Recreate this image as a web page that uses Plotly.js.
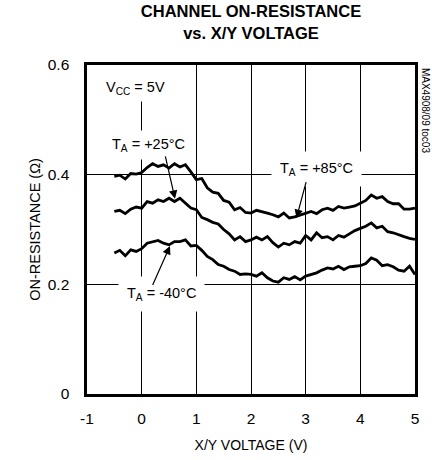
<!DOCTYPE html>
<html>
<head>
<meta charset="utf-8">
<script src="https://cdn.plot.ly/plotly-3.0.1.min.js"></script>
<style>html,body{margin:0;padding:0;background:#fff;}#chart{width:432px;height:460px;}</style>
</head>
<body>
<div id="chart"></div>
<script>
// X/Y voltage (V)
const voltage = [-0.5,-0.4,-0.3,-0.2,-0.1,0.0,0.1,0.2,0.3,0.4,0.5,0.6,0.7,0.8,0.9,1.0,1.1,1.2,1.3,1.4,1.5,1.6,1.7,1.8,1.9,2.0,2.1,2.2,2.3,2.4,2.5,2.6,2.7,2.8,2.9,3.0,3.1,3.2,3.3,3.4,3.5,3.6,3.7,3.8,3.9,4.0,4.1,4.2,4.3,4.4,4.5,4.6,4.7,4.8,4.9,5.0];
// On-resistance (ohm) at TA = +85°C
const r85 = [0.397,0.399,0.392,0.402,0.401,0.404,0.413,0.420,0.415,0.418,0.412,0.420,0.414,0.418,0.405,0.391,0.393,0.376,0.368,0.366,0.353,0.350,0.336,0.340,0.331,0.330,0.335,0.333,0.330,0.327,0.323,0.330,0.321,0.323,0.326,0.330,0.333,0.329,0.336,0.339,0.335,0.342,0.339,0.341,0.343,0.348,0.353,0.363,0.357,0.360,0.351,0.347,0.347,0.337,0.337,0.339];
// On-resistance (ohm) at TA = +25°C
const r25 = [0.333,0.335,0.329,0.337,0.341,0.339,0.351,0.348,0.354,0.351,0.357,0.351,0.357,0.348,0.339,0.336,0.322,0.318,0.313,0.310,0.300,0.292,0.281,0.287,0.278,0.281,0.286,0.281,0.287,0.276,0.268,0.275,0.272,0.278,0.275,0.289,0.281,0.294,0.285,0.287,0.281,0.289,0.286,0.292,0.298,0.302,0.306,0.312,0.303,0.306,0.296,0.294,0.290,0.287,0.284,0.282];
// On-resistance (ohm) at TA = -40°C
const rm40 = [0.257,0.262,0.252,0.263,0.260,0.265,0.275,0.278,0.280,0.275,0.272,0.278,0.278,0.281,0.270,0.271,0.262,0.251,0.245,0.236,0.233,0.227,0.224,0.218,0.219,0.218,0.215,0.221,0.212,0.206,0.204,0.212,0.209,0.214,0.208,0.215,0.218,0.221,0.226,0.230,0.228,0.233,0.227,0.232,0.233,0.234,0.238,0.248,0.244,0.234,0.236,0.232,0.226,0.224,0.233,0.218];

const xTicks = [-1,0,1,2,3,4,5];
const xTickText = ["-1","0","1","2","3","4","5"];
const yTicks = [0,0.2,0.4,0.6];
const yTickText = ["0","0.2","0.4","0.6"];

const FONT = "'Liberation Sans', Arial, sans-serif";

const lineStyle = {color:'#000', width:2.8, shape:'linear'};
const traces = [
  {x:voltage, y:r85, mode:'lines', line:lineStyle, name:'+85°C', hoverinfo:'skip'},
  {x:voltage, y:r25, mode:'lines', line:lineStyle, name:'+25°C', hoverinfo:'skip'},
  {x:voltage, y:rm40, mode:'lines', line:lineStyle, name:'-40°C', hoverinfo:'skip'}
];

const labelFont = {family:FONT, size:14.5, color:'#000'};
function label(text, x, y, xanchor, pad){
  return {text:text, x:x, y:y, xref:'x', yref:'y', showarrow:false, font:labelFont,
          bgcolor:'#fff', borderpad:pad||5, xanchor:xanchor||'center', yanchor:'middle'};
}
function arrow(x0,y0,x1,y1){
  return {text:'', x:x1, y:y1, ax:x0, ay:y0, xref:'x', yref:'y', axref:'x', ayref:'y',
          showarrow:true, arrowhead:2, arrowsize:1.4, arrowwidth:1.2, arrowcolor:'#000', standoff:0, startstandoff:0};
}

const layout = {
  width:432, height:460,
  margin:{l:87, r:17, t:65, b:66},
  paper_bgcolor:'#fff', plot_bgcolor:'#fff',
  showlegend:false,
  font:{family:FONT, size:15, color:'#000'},
  title:{text:'<b>CHANNEL ON-RESISTANCE<br>vs. X/Y VOLTAGE</b>', font:{family:FONT, size:16.5, color:'#000'},
         x:0.5, xref:'paper', xanchor:'center', y:0.962, yref:'container', yanchor:'top'},
  xaxis:{range:[-1,5], tickvals:xTicks, ticktext:xTickText, ticks:'', showgrid:true, gridcolor:'#000', gridwidth:1,
         showline:true, linecolor:'#000', linewidth:2.6, mirror:true, zeroline:false,
         ticklabelstandoff:9, tickfont:{family:FONT, size:15.5},
         title:{text:'X/Y VOLTAGE (V)', font:{family:FONT, size:14}, standoff:14}},
  yaxis:{range:[0,0.6], tickvals:yTicks, ticktext:yTickText, ticks:'', showgrid:true, gridcolor:'#000', gridwidth:1,
         showline:true, linecolor:'#000', linewidth:2.6, mirror:true, zeroline:false,
         ticklabelstandoff:12, tickfont:{family:FONT, size:15.5},
         title:{text:'ON-RESISTANCE (Ω)', font:{family:FONT, size:14.5}, standoff:4}},
  shapes:[
    {type:'rect', xref:'x', yref:'y', x0:-0.3, x1:0.3, y0:0.54, y1:0.6, fillcolor:'#fff', line:{width:0}, layer:'between'}
  ],
  annotations:[
    label('V<sub>CC</sub> = 5V', -0.74, 0.558, 'left', 4),
    label('T<sub>A</sub> = +25°C', 0.134, 0.454, 'center', 5),
    label('T<sub>A</sub> = +85°C', 3.2, 0.411, 'center', 8),
    label('T<sub>A</sub> = -40°C', 0.354, 0.183, 'center', 8),
    arrow(0.427,0.436, 0.61,0.356),
    arrow(3.015,0.389, 2.832,0.321),
    arrow(0.189,0.196, 0.518,0.270),
    {text:'MAX4908/09 toc03', xref:'paper', yref:'paper', x:1.034, y:0.863, showarrow:false,
     textangle:90, font:{family:FONT, size:10, color:'#000'}, xanchor:'center', yanchor:'middle'}
  ]
};

Plotly.newPlot('chart', traces, layout, {staticPlot:true, displayModeBar:false});
</script>
</body>
</html>
